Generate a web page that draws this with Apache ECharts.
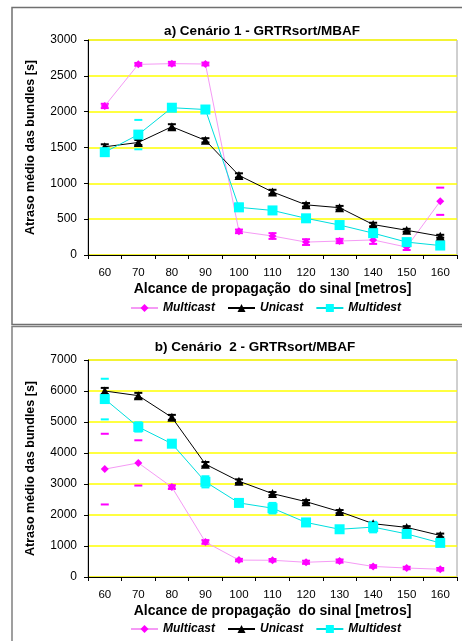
<!DOCTYPE html>
<html>
<head>
<meta charset="utf-8">
<script src="https://cdn.jsdelivr.net/npm/echarts@6/dist/echarts.min.js"></script>
<style>
html,body{margin:0;padding:0;background:#fff;}
#c{width:462px;height:641px;}
</style>
</head>
<body>
<div id="c"></div>
<script>
var categories = ['60','70','80','90','100','110','120','130','140','150','160'];

// Chart a) Cenário 1
var a_multicast = [2080, 2660, 2670, 2665, 330, 265, 180, 195, 210, 110, 750];
var a_unicast   = [1510, 1570, 1790, 1600, 1110, 880, 700, 660, 425, 345, 262];
var a_multidest = [1435, 1680, 2055, 2030, 665, 622, 512, 418, 305, 180, 132];
var a_multicast_err = [30, 20, 25, 20, 25, 40, 40, 30, 55, 40, 190];
var a_unicast_err   = [35, 35, 35, 30, 30, 30, 25, 25, 25, 20, 20];
var a_multidest_err = [30, 205, 35, 45, 50, 35, 45, 40, 40, 30, 25];

// Chart b) Cenário 2
var b_multicast = [3480, 3680, 2900, 1130, 545, 540, 475, 515, 340, 290, 250];
var b_unicast   = [6000, 5850, 5150, 3640, 3090, 2690, 2430, 2110, 1720, 1600, 1340];
var b_multidest = [5740, 4840, 4300, 3070, 2390, 2220, 1760, 1540, 1610, 1390, 1100];
var b_multicast_err = [1140, 730, 60, 60, 40, 40, 50, 50, 40, 40, 40];
var b_unicast_err   = [100, 90, 80, 70, 60, 50, 50, 50, 40, 40, 60];
var b_multidest_err = [655, 150, 80, 180, 80, 170, 80, 80, 170, 90, 80];

var yTicksA = [0, 500, 1000, 1500, 2000, 2500, 3000];
var yTicksB = [0, 1000, 2000, 3000, 4000, 5000, 6000, 7000];

var PINK_LINE = '#f59af5', PINK = '#ff00ff', BLACK = '#000000', CYAN_LINE = '#00dede', CYAN = '#00ffff';
var FONT = 'Liberation Sans, Arial, sans-serif';

function errSeries(name, vals, errs, color, xi, yi) {
  var data = vals.map(function (v, i) { return [i, v - errs[i], v + errs[i]]; });
  return {
    type: 'custom', name: name, xAxisIndex: xi, yAxisIndex: yi, z: 1, silent: true,
    data: data,
    renderItem: function (params, api) {
      var lo = api.coord([api.value(0), api.value(1)]);
      var hi = api.coord([api.value(0), api.value(2)]);
      var w = 4;
      return {
        type: 'group', children: [
          {type: 'line', shape: {x1: hi[0] - w, y1: hi[1], x2: hi[0] + w, y2: hi[1]}, style: {stroke: color, lineWidth: 2}},
          {type: 'line', shape: {x1: lo[0] - w, y1: lo[1], x2: lo[0] + w, y2: lo[1]}, style: {stroke: color, lineWidth: 2}}
        ]
      };
    }
  };
}

function lineSeries(name, vals, lineColor, markColor, symbol, size, xi, yi) {
  return {
    type: 'line', name: name, data: vals, xAxisIndex: xi, yAxisIndex: yi, z: 3,
    symbol: symbol, symbolSize: size, showAllSymbol: true,
    lineStyle: {color: lineColor, width: 1},
    itemStyle: {color: markColor, borderWidth: 0},
    emphasis: {disabled: true}
  };
}

function xAxis(gi) {
  return {
    type: 'category', gridIndex: gi, data: categories, boundaryGap: true,
    name: 'Alcance de propagação  do sinal [metros]', nameLocation: 'middle', nameGap: 27,
    nameTextStyle: {fontFamily: FONT, fontWeight: 'bold', fontSize: 14, color: '#000'},
    axisLine: {lineStyle: {color: '#000', width: 1}},
    axisTick: {show: true, alignWithLabel: false, length: 4, lineStyle: {color: '#000'}},
    axisLabel: {fontFamily: FONT, fontSize: 11.5, color: '#000', margin: 12, interval: 0},
    splitLine: {show: false}
  };
}

function yAxis(gi, max, interval) {
  return {
    type: 'value', gridIndex: gi, min: 0, max: max, interval: interval,
    name: 'Atraso médio das bundles [s]', nameLocation: 'middle', nameGap: 51, nameRotate: 90,
    nameTextStyle: {fontFamily: FONT, fontWeight: 'bold', fontSize: 12.5, color: '#000'},
    axisLine: {show: true, lineStyle: {color: '#000', width: 1}},
    axisTick: {show: true, length: 4, lineStyle: {color: '#000'}},
    axisLabel: {fontFamily: FONT, fontSize: 12, color: '#000', margin: 11,
                formatter: function (v) { return String(v); }},
    splitLine: {show: true, lineStyle: {color: '#ffff00', width: 1.5}}
  };
}

var legendText = {fontFamily: FONT, fontSize: 12, fontWeight: 'bold', fontStyle: 'italic', color: '#000'};

var chart = echarts.init(document.getElementById('c'), null, {renderer: 'canvas'});
chart.setOption({
  animation: false,
  backgroundColor: '#ffffff',
  title: [
    {text: 'a) Cenário 1 - GRTRsort/MBAF', left: 257, top: 19, textAlign: 'center',
     textStyle: {fontFamily: FONT, fontSize: 13.5, fontWeight: 'bold', color: '#000'}},
    {text: 'b) Cenário  2 - GRTRsort/MBAF', left: 250, top: 335, textAlign: 'center',
     textStyle: {fontFamily: FONT, fontSize: 13.5, fontWeight: 'bold', color: '#000'}}
  ],
  legend: [
    {top: 297, left: 125, itemGap: 12, itemWidth: 27, itemHeight: 10, textStyle: legendText,
     data: ['Multicast', 'Unicast', 'Multidest'], selectedMode: false},
    {top: 618, left: 125, itemGap: 12, itemWidth: 27, itemHeight: 10, textStyle: legendText,
     data: ['Multicast', 'Unicast', 'Multidest'], selectedMode: false}
  ],
  grid: [
    {left: 88, top: 40, right: 5, height: 215, show: true, borderColor: '#a0a0a0', borderWidth: 1, backgroundColor: 'transparent'},
    {left: 88, top: 360, right: 5, height: 217, show: true, borderColor: '#a0a0a0', borderWidth: 1, backgroundColor: 'transparent'}
  ],
  xAxis: [xAxis(0), xAxis(1)],
  yAxis: [yAxis(0, yTicksA[yTicksA.length - 1], yTicksA[1]), yAxis(1, yTicksB[yTicksB.length - 1], yTicksB[1])],
  graphic: [
    {type: 'rect', shape: {x: 12, y: 7.5, width: 470, height: 317}, style: {fill: 'none', stroke: '#707070', lineWidth: 1.5}, z: -1},
    {type: 'rect', shape: {x: 12, y: 326.5, width: 470, height: 330}, style: {fill: 'none', stroke: '#808080', lineWidth: 1.5}, z: -1}
  ],
  series: [
    errSeries('errA1', a_multicast, a_multicast_err, PINK, 0, 0),
    errSeries('errA2', a_unicast, a_unicast_err, BLACK, 0, 0),
    errSeries('errA3', a_multidest, a_multidest_err, CYAN, 0, 0),
    lineSeries('Multicast', a_multicast, PINK_LINE, PINK, 'diamond', 8, 0, 0),
    lineSeries('Unicast', a_unicast, BLACK, BLACK, 'triangle', 9, 0, 0),
    lineSeries('Multidest', a_multidest, CYAN_LINE, CYAN, 'rect', 10, 0, 0),
    errSeries('errB1', b_multicast, b_multicast_err, PINK, 1, 1),
    errSeries('errB2', b_unicast, b_unicast_err, BLACK, 1, 1),
    errSeries('errB3', b_multidest, b_multidest_err, CYAN, 1, 1),
    lineSeries('Multicast', b_multicast, PINK_LINE, PINK, 'diamond', 8, 1, 1),
    lineSeries('Unicast', b_unicast, BLACK, BLACK, 'triangle', 9, 1, 1),
    lineSeries('Multidest', b_multidest, CYAN_LINE, CYAN, 'rect', 10, 1, 1)
  ]
});
</script>
</body>
</html>
